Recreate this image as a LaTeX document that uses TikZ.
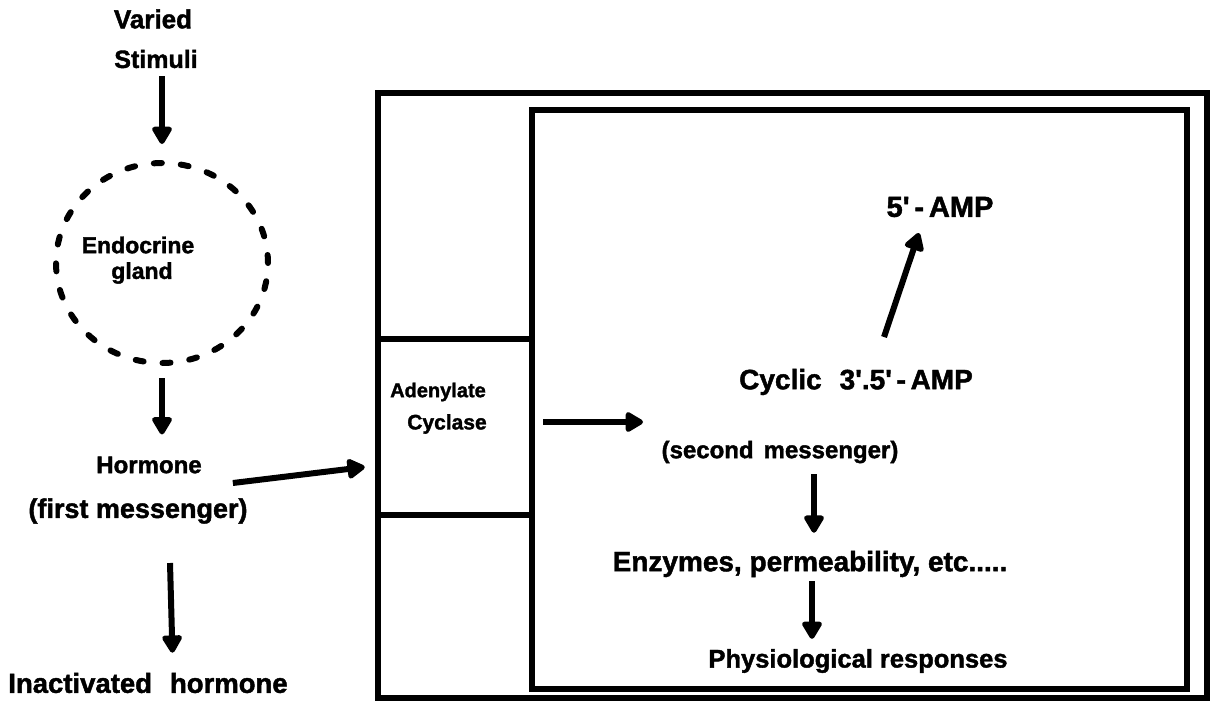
\documentclass[tikz,border=0pt]{standalone}
\usepackage{fontspec}
\setmainfont{Liberation Sans}[BoldFeatures={FakeBold=1.6}]
\usetikzlibrary{arrows.meta,shapes.geometric}
\tikzset{
  lbl/.style={inner sep=0pt, font=\bfseries\fontsize{#1}{#1}\selectfont},
  lbl/.default=26,
  arr/.style={line width=6pt, -{Triangle[length=20pt,width=22pt,round]}},
  frame/.style={draw, line width=6.5pt, inner sep=0pt}
}
\begin{document}
\begin{tikzpicture}[x=1pt,y=-1pt]
\useasboundingbox (0,0) rectangle (1211,702);
% left column
\node[lbl=26] (varied) at (153,19) {Varied};
\node[lbl=25] (stim) at (156,59) {Stimuli};
\node[draw, ellipse, line width=6pt, dash pattern=on 8pt off 19pt, line cap=round,
      minimum width=212pt, minimum height=200pt, inner sep=0pt] (gland) at (162,263) {};
\node[lbl=23] (endo) at (138,245) {Endocrine};
\node[lbl=23] (gl) at (142,273) {gland};
\node[lbl=24] (horm) at (149,465) {Hormone};
\node[lbl=27] (first) at (138,511) {(first messenger)};
\node[lbl=27.5] (inact) at (148,683) {Inactivated\hspace{18pt}hormone};
\coordinate (inTop) at (170,563);
% boxes
\node[frame, minimum width=829pt, minimum height=605pt] (outer) at (792.5,395.5) {};
\node[frame, minimum width=655pt, minimum height=579pt] (inner) at (859.5,399.5) {};
\node[frame, minimum width=154pt, minimum height=176pt] (cyc) at (455,427) {};
\node[lbl=20] (aden) at (438,392) {Adenylate};
\node[lbl=21] (cyclase) at (447,424) {Cyclase};
\coordinate (cycEnd) at (643,422);
% right contents
\node[lbl=29] (amp5) at (940,207) {5\textquotesingle\,-\,AMP};
\node[lbl=28] (camp) at (856,382) {Cyclic\hspace{18pt}3\textquotesingle.5\textquotesingle\,-\,AMP};
\node[lbl=24] (second) at (780,452) {(second\hspace{10pt}messenger)};
\node[lbl=28] (enz) at (810,564) {Enzymes, permeability, etc.....};
\node[lbl=25.5] (phys) at (858,661) {Physiological responses};
\coordinate (c1) at (884,337);
\coordinate (c2) at (919,233);
% arrows
\draw[arr, shorten <=8pt, shorten >=16pt] (stim.south -| gland.north) -- (gland.north);
\draw[arr, shorten <=12pt, shorten >=22pt] (gland.south) -- (horm.north -| gland.south);
\draw[arr] ([shift={(31,18)}]horm.east) -- ([shift={(-10,40)}]cyc.west);
\draw[arr, shorten >=20pt] (inTop) -- (inact.north -| 173,0);
\draw[arr] ([shift={(8,-5)}]cyc.east) -- (cycEnd);
\draw[arr] (c1) -- (c2);
\draw[arr, shorten <=11pt, shorten >=18pt] (second.south -| 814,0) -- (enz.north -| 814,0);
\draw[arr, shorten <=4pt, shorten >=10pt] (enz.south -| 812,0) -- (phys.north -| 812,0);
\end{tikzpicture}
\end{document}
